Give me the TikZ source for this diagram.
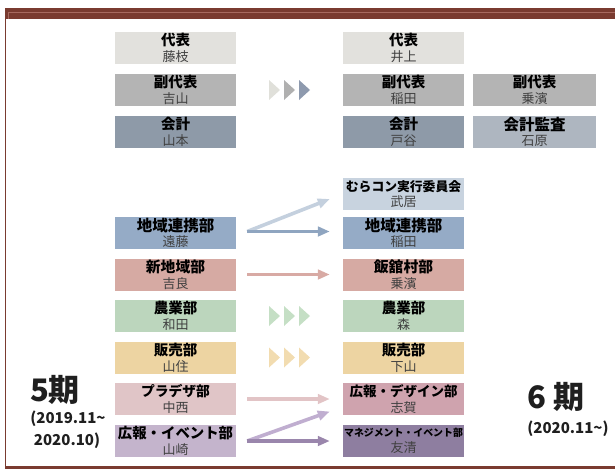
\documentclass[tikz,border=0pt]{standalone}
\usepackage{fontspec}
\setmainfont{Noto Sans CJK JP}
\usetikzlibrary{arrows.meta}
\definecolor{frame}{HTML}{7A3B30}
\definecolor{framelt}{HTML}{A86A60}
\definecolor{namec}{HTML}{404040}
\definecolor{cDai}{HTML}{E2E1DD}
\definecolor{cFuku}{HTML}{B4B4B4}
\definecolor{cKai}{HTML}{8E9AA8}
\definecolor{cKan}{HTML}{AEB6C0}
\definecolor{cMura}{HTML}{C8D3DF}
\definecolor{cChi}{HTML}{95ABC6}
\definecolor{cShin}{HTML}{D6AAA3}
\definecolor{cNou}{HTML}{BCD6BD}
\definecolor{cHan}{HTML}{EDD4A2}
\definecolor{cPla}{HTML}{E0C5C7}
\definecolor{cKoD}{HTML}{CFA3AE}
\definecolor{cKoE}{HTML}{C4B4CC}
\definecolor{cMan}{HTML}{8E7EA0}
\definecolor{aBlueL}{HTML}{C4D0DE}
\definecolor{aBlueD}{HTML}{8FA5C0}
\definecolor{aRed}{HTML}{D8AAA4}
\definecolor{aPink}{HTML}{E2C4C6}
\definecolor{aPurL}{HTML}{C0AED0}
\definecolor{aPurD}{HTML}{9A86AC}
\definecolor{chA}{HTML}{E0E0DA}
\definecolor{chB}{HTML}{B0B0B0}
\definecolor{chC}{HTML}{8E9AAE}
\definecolor{chG}{HTML}{C5DFC5}
\definecolor{chO}{HTML}{F2DCB0}
\newcommand\orgttl[2][14.5]{{\fontsize{#1}{15.7}\selectfont\bfseries #2}}
\newcommand\orgnm[1]{\textcolor{namec}{#1}}
\begin{document}
\begin{tikzpicture}[x=1pt,y=-1pt,
  org/.style={minimum width=121pt, minimum height=32pt, inner sep=0pt, align=center,
    font=\fontsize{13}{15.7}\selectfont, text=black},
  orgw/.style={org, minimum width=123pt},
  conn/.style={line width=3.6pt, -{Triangle[length=12pt,width=9.5pt]}},
  big/.style={font=\bfseries\fontsize{31}{31}\selectfont, text=black!88, inner sep=0pt},
  period/.style={font=\bfseries\fontsize{15}{15}\selectfont, text=black!88, inner sep=0pt}]
\useasboundingbox (0,0) rectangle (615,469);
% frame
\fill[frame] (5,8) rectangle (615,19);
\draw[framelt, line width=0.8pt] (8,19) -- (8,12) -- (615,12);
\fill[frame] (4.5,8) rectangle (6.3,469);
\fill[frame] (4.5,466) rectangle (615,469);
% left column (5th term)
\node[org, fill=cDai]  (a1) at (175.5,48)  {\orgttl{代表}\\\orgnm{藤枝}};
\node[org, fill=cFuku] (a2) at (175.5,90)  {\orgttl{副代表}\\\orgnm{吉山}};
\node[org, fill=cKai]  (a3) at (175.5,132) {\orgttl{会計}\\\orgnm{山本}};
\node[org, fill=cChi]  (a4) at (175.5,233) {\orgttl[15.5]{地域連携部}\\\orgnm{遠藤}};
\node[org, fill=cShin] (a5) at (175.5,274.5) {\orgttl[14.8]{新地域部}\\\orgnm{吉良}};
\node[org, fill=cNou]  (a6) at (175.5,316) {\orgttl{農業部}\\\orgnm{和田}};
\node[org, fill=cHan]  (a7) at (175.5,357.5) {\orgttl{販売部}\\\orgnm{山住}};
\node[org, fill=cPla]  (a8) at (175.5,399) {\orgttl[13.8]{プラデザ部}\\\orgnm{中西}};
\node[org, fill=cKoE]  (a9) at (175.5,441) {\orgttl[14.4]{広報・イベント部}\\\orgnm{山崎}};
% middle column (6th term)
\node[org, fill=cDai]  (b1) at (403.5,48)  {\orgttl{代表}\\\orgnm{井上}};
\node[org, fill=cFuku] (b2) at (403.5,90)  {\orgttl{副代表}\\\orgnm{稲田}};
\node[org, fill=cKai]  (b3) at (403.5,132) {\orgttl{会計}\\\orgnm{戸谷}};
\node[org, fill=cMura] (bm) at (403.5,194) {\orgttl[12.8]{むらコン実行委員会}\\\orgnm{武居}};
\node[org, fill=cChi]  (b4) at (403.5,233) {\orgttl[15.5]{地域連携部}\\\orgnm{稲田}};
\node[org, fill=cShin] (b5) at (403.5,274.5) {\orgttl[14.8]{飯舘村部}\\\orgnm{乗濱}};
\node[org, fill=cNou]  (b6) at (403.5,316) {\orgttl{農業部}\\\orgnm{森}};
\node[org, fill=cHan]  (b7) at (403.5,357.5) {\orgttl{販売部}\\\orgnm{下山}};
\node[org, fill=cKoD]  (b8) at (403.5,399) {\orgttl[13.5]{広報・デザイン部}\\\orgnm{志賀}};
\node[org, fill=cMan]  (b9) at (403.5,441) {\orgttl[9.9]{マネジメント・イベント部}\\\orgnm{友清}};
% right column
\node[orgw, fill=cFuku] (c2) at (534.5,90)  {\orgttl{副代表}\\\orgnm{乗濱}};
\node[orgw, fill=cKan]  (c3) at (534.5,132) {\orgttl[15.5]{会計監査}\\\orgnm{石原}};
% chevrons
\fill[chA] (269,80) -- (280,90) -- (269,100) -- cycle;
\fill[chB] (284,80) -- (295,90) -- (284,100) -- cycle;
\fill[chC] (299,80) -- (310,90) -- (299,100) -- cycle;
\foreach \x in {269,284,299} {
  \fill[chG] (\x,306) -- (\x+11,316) -- (\x,326) -- cycle;
  \fill[chO] (\x,347.5) -- (\x+11,357.5) -- (\x,367.5) -- cycle;
}
% connectors
\draw[conn, aBlueL] ([xshift=11pt,yshift=1.5pt]a4.east) -- ([xshift=-13pt,yshift=-5pt]bm.west);
\draw[conn, aBlueD] ([xshift=11pt,yshift=1.5pt]a4.east) -- ([xshift=-13pt,yshift=1.5pt]b4.west);
\draw[conn, aRed]   ([xshift=11pt]a5.east) -- ([xshift=-13pt]b5.west);
\draw[conn, aPink]  ([xshift=11pt]a8.east) -- ([xshift=-13pt]b8.west);
\draw[conn, aPurL]  ([xshift=11pt]a9.east) -- ([xshift=-13pt,yshift=-12.5pt]b8.west);
\draw[conn, aPurD]  ([xshift=11pt]a9.east) -- ([xshift=-13pt]b9.west);
% term labels
\node[big]    (t5)  at (55,390)  {5期};
\node[period] (t5a) at (68,419)  {(2019.11\textasciitilde};
\node[period] (t5b) at (67,441)  {2020.10)};
\node[big]    (t6)  at (556,397) {6 期};
\node[period] (t6a) at (568,429) {(2020.11\textasciitilde)};
\end{tikzpicture}
\end{document}
